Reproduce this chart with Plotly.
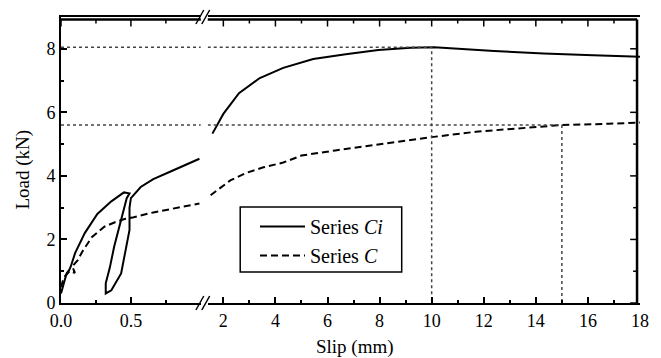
import plotly.graph_objects as go

# Series Ci (solid) - left part of the broken axis (0 - 1 mm) and right part (> 1.4 mm)
ci_slip_a = [0.0, 0.02, 0.04, 0.06, 0.05, 0.07, 0.1, 0.17, 0.26, 0.36, 0.45, 0.49,
             0.47, 0.42, 0.38, 0.35, 0.32, 0.32, 0.36, 0.43, 0.46, 0.49, 0.49, 0.5,
             0.57, 0.66, 0.8, 0.99]
ci_load_a = [0.3, 0.6, 0.93, 1.05, 0.95, 1.15, 1.56, 2.2, 2.8, 3.2, 3.48, 3.45,
             3.3, 2.5, 1.77, 1.13, 0.62, 0.3, 0.4, 0.93, 1.56, 2.3, 3.0, 3.3,
             3.65, 3.9, 4.17, 4.54]
ci_slip_b = [1.58, 2.0, 2.6, 3.4, 4.3, 5.45, 6.7, 7.95, 9.2, 10.0, 10.1, 12.4, 14.3, 16.2, 18.0]
ci_load_b = [5.33, 5.95, 6.6, 7.08, 7.4, 7.68, 7.83, 7.96, 8.03, 8.05, 8.05, 7.93, 7.85, 7.8, 7.75]

# Series C (dashed)
c_slip_a = [0.0, 0.02, 0.06, 0.1, 0.08, 0.12, 0.15, 0.22, 0.31, 0.39, 0.46, 0.52,
            0.66, 0.8, 0.99]
c_load_a = [0.5, 0.8, 1.0, 0.95, 1.15, 1.35, 1.6, 2.07, 2.4, 2.55, 2.65, 2.7,
            2.85, 2.97, 3.13]
c_slip_b = [1.51, 1.84, 2.27, 2.9, 3.54, 4.3, 5.0, 6.3, 7.6, 8.86, 10.0, 11.7,
            13.6, 15.0, 16.8, 18.0]
c_load_b = [3.39, 3.6, 3.86, 4.1, 4.27, 4.42, 4.64, 4.8, 4.95, 5.1, 5.22, 5.39,
            5.52, 5.6, 5.64, 5.68]

# reference (dotted) guide values
ci_peak_slip, ci_peak_load = 10, 8.05
c_ref_slip, c_ref_load = 15, 5.6

x1_ticks = [0, 0.5]
x1_labels = ['0.0', '0.5']
x1_minor = [0.25, 0.75]
x2_ticks = [2, 4, 6, 8, 10, 12, 14, 16, 18]
x2_minor = [3, 5, 7, 9, 11, 13, 15, 17]
y_ticks = [0, 2, 4, 6, 8]
y_minor = [1, 3, 5, 7]

FONT = 'Liberation Serif'
W, H = 661, 358
L, R, T, B = 61, 12, 17, 55
PW, PH = W - L - R, H - T - B
x1_dom = [0, (203 - L) / PW]
x2_dom = [(210 - L) / PW, 1]
x1_range = [0, 1.0]
x2_range = [1.4, 18]
y_range = [0, 9]


def px(x, y):
    # page pixel -> paper coords
    return (x - L) / PW, (H - B - y) / PH


fig = go.Figure()
solid = dict(color='black', width=2)
dashed = dict(color='black', width=2, dash='7px,4px')
dotted = dict(color='#444', width=1.5, dash='dot')

fig.add_trace(go.Scatter(x=ci_slip_a, y=ci_load_a, mode='lines', line=solid,
                         name='Series <i>Ci</i>', xaxis='x', yaxis='y'))
fig.add_trace(go.Scatter(x=c_slip_a, y=c_load_a, mode='lines', line=dashed,
                         name='Series <i>C</i>', xaxis='x', yaxis='y'))
fig.add_trace(go.Scatter(x=ci_slip_b, y=ci_load_b, mode='lines', line=solid,
                         showlegend=False, xaxis='x2', yaxis='y2'))
fig.add_trace(go.Scatter(x=c_slip_b, y=c_load_b, mode='lines', line=dashed,
                         showlegend=False, xaxis='x2', yaxis='y2'))

# dotted guide lines
for load in (ci_peak_load, c_ref_load):
    fig.add_trace(go.Scatter(x=[0, 1.0], y=[load, load], mode='lines', line=dotted,
                             showlegend=False, xaxis='x', yaxis='y'))
fig.add_trace(go.Scatter(x=[1.4, ci_peak_slip, ci_peak_slip], y=[ci_peak_load, ci_peak_load, 0],
                         mode='lines', line=dotted, showlegend=False, xaxis='x2', yaxis='y2'))
fig.add_trace(go.Scatter(x=[1.4, c_ref_slip, c_ref_slip], y=[c_ref_load, c_ref_load, 0],
                         mode='lines', line=dotted, showlegend=False, xaxis='x2', yaxis='y2'))

axis_common = dict(showline=True, linecolor='black', linewidth=2, ticks='inside',
                   ticklen=6, tickwidth=1.5, tickcolor='black', showgrid=False,
                   zeroline=False, tickfont=dict(family=FONT, size=18, color='black'))


def minor(vals):
    return dict(tickvals=vals, ticklen=3, ticks='inside', tickcolor='black')


fig.update_layout(
    width=W, height=H, autosize=False,
    margin=dict(l=L, r=R, t=T, b=B),
    paper_bgcolor='white', plot_bgcolor='white',
    font=dict(family=FONT, size=19, color='black'),
    xaxis=dict(domain=x1_dom, range=x1_range, tickvals=x1_ticks, ticktext=x1_labels,
               anchor='y', mirror=True, minor=minor(x1_minor), **axis_common),
    xaxis2=dict(domain=x2_dom, range=x2_range, tickvals=x2_ticks, anchor='y2',
                mirror=True, minor=minor(x2_minor), **axis_common),
    yaxis=dict(range=y_range, tickvals=y_ticks, anchor='x', minor=minor(y_minor),
               **axis_common),
    yaxis2=dict(range=y_range, tickvals=y_ticks, anchor='x2', showline=False,
                showticklabels=False, ticks='', showgrid=False, zeroline=False),
    legend=dict(x=px(258, 0)[0], y=px(0, 207)[1], xanchor='left', yanchor='top',
                borderwidth=0, bgcolor='rgba(0,0,0,0)',
                font=dict(family=FONT, size=20), itemwidth=45, tracegroupgap=0),
    showlegend=True,
)

# frame: top lines of both sections and the right-hand side, a little inset
frame = dict(color='black', width=2.5)
tick = dict(color='black', width=1.5)
top = 1 - 2.5 / PH
right = 1 - 3 / PW
for dom in (x1_dom, x2_dom):
    fig.add_shape(type='line', xref='paper', yref='paper', x0=dom[0], x1=min(dom[1], right),
                  y0=top, y1=top, line=frame)
fig.add_shape(type='line', xref='paper', yref='paper', x0=right, x1=right, y0=0, y1=top,
              line=frame)
# mirrored ticks (top and right)
for xref, vals, ln in (('x', x1_ticks, 7), ('x', x1_minor, 4), ('x2', x2_ticks[:-1], 7),
                       ('x2', x2_minor, 4)):
    for v in vals:
        fig.add_shape(type='line', xref=xref, yref='paper', x0=v, x1=v,
                      y0=top, y1=top - ln / PH, line=tick)
for vals, ln in ((y_ticks, 7), (y_minor, 4)):
    for v in vals:
        fig.add_shape(type='line', xref='paper', yref='y2', x0=right, x1=right - ln / PW,
                      y0=v, y1=v, line=tick)

# legend box
bx0, by0 = px(243, 272)
bx1, by1 = px(407, 207)
fig.add_shape(type='rect', xref='paper', yref='paper', x0=bx0, y0=by0, x1=bx1, y1=by1,
              line=dict(color='black', width=1.5), layer='below')

# axis titles
lx, ly = px(22, 170)
fig.add_annotation(text='Load (kN)', x=lx, y=ly, xref='paper', yref='paper',
                   xanchor='center', yanchor='middle',
                   textangle=-90, showarrow=False, font=dict(family=FONT, size=19))
sx, sy = px(360, 347)
fig.add_annotation(text='Slip (mm)', x=sx, y=sy, xref='paper', yref='paper',
                   xanchor='center', yanchor='middle',
                   showarrow=False, font=dict(family=FONT, size=19))

# axis break marks
for yb in (T, H - B):
    for off in (0, 6):
        x0, y0 = px(198 + off, yb + 7)
        x1, y1 = px(206 + off, yb - 7)
        fig.add_shape(type='line', xref='paper', yref='paper', x0=x0, y0=y0, x1=x1, y1=y1,
                      line=dict(color='black', width=1.5))

# drop the default page margin so the figure sits at the window's corner
fig.write_html('out.html', config={'displayModeBar': False},
               post_script="document.body.style.margin='0';")
